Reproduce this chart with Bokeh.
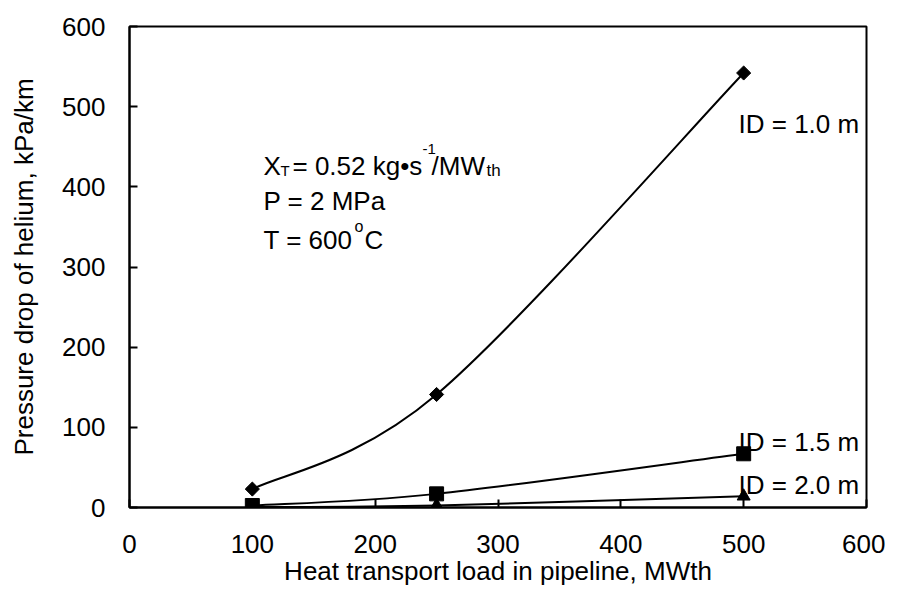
import numpy as np
from bokeh.plotting import figure
from bokeh.models import Label, Range1d, FixedTicker
from bokeh.embed import file_html
from bokeh.resources import INLINE

# ---- data ----
heat_load = [100, 250, 500]          # MWth
dp_id10 = [23, 141, 542]             # kPa/km, ID = 1.0 m
dp_id15 = [2.5, 17, 67]              # kPa/km, ID = 1.5 m
dp_id20 = [0.5, 2.5, 14]             # kPa/km, ID = 2.0 m
x_ticks = [0, 100, 200, 300, 400, 500, 600]
y_ticks = [0, 100, 200, 300, 400, 500, 600]

FONT = "Liberation Sans"
FS = "26px"

# frame placement (canvas pixels)
FL, FT, FR, FB = 129, 26, 866, 507
W, H = 885, 594

p = figure(width=W, height=H, output_backend="svg", toolbar_location=None,
           x_range=Range1d(0, 600), y_range=Range1d(0, 600),
           min_border_left=FL, min_border_right=W - FR, min_border_top=FT,
           min_border_bottom=H - FB)
p.background_fill_color = "white"
p.border_fill_color = "white"
p.outline_line_color = "black"
p.outline_line_width = 2
p.xgrid.visible = False
p.ygrid.visible = False

for ax in (p.xaxis[0], p.yaxis[0]):
    ax.axis_line_color = "black"
    ax.axis_line_width = 2
    ax.major_tick_line_color = "black"
    ax.major_tick_line_width = 2
    ax.major_tick_in = 8
    ax.major_tick_out = 0
    ax.minor_tick_line_color = None
    ax.major_label_text_font = FONT
    ax.major_label_text_font_size = FS
    ax.major_label_text_color = "black"
    ax.axis_label_text_font = FONT
    ax.axis_label_text_font_size = FS
    ax.axis_label_text_font_style = "normal"
    ax.axis_label_text_color = "black"

p.xaxis.ticker = FixedTicker(ticks=x_ticks)
p.yaxis.ticker = FixedTicker(ticks=y_ticks)
p.xaxis.axis_label = "Heat transport load in pipeline, MWth"
p.yaxis.axis_label = "Pressure drop of helium, kPa/km"
p.xaxis.major_label_standoff = 27
p.xaxis.axis_label_standoff = 0
p.yaxis.major_label_standoff = 24
p.yaxis.axis_label_standoff = 20


def smooth(xs, ys, k=1.0 / 6.0):
    """Excel-like smoothed line: cubic Bezier control points per segment."""
    xs = np.asarray(xs, float)
    ys = np.asarray(ys, float)
    n = len(xs)
    out = dict(x0=[], y0=[], x1=[], y1=[], cx0=[], cy0=[], cx1=[], cy1=[])
    for i in range(n - 1):
        im = max(i - 1, 0)
        ip2 = min(i + 2, n - 1)
        out["x0"].append(xs[i]); out["y0"].append(ys[i])
        out["x1"].append(xs[i + 1]); out["y1"].append(ys[i + 1])
        out["cx0"].append(xs[i] + (xs[i + 1] - xs[im]) * k)
        out["cy0"].append(ys[i] + (ys[i + 1] - ys[im]) * k)
        out["cx1"].append(xs[i + 1] - (xs[ip2] - xs[i]) * k)
        out["cy1"].append(ys[i + 1] - (ys[ip2] - ys[i]) * k)
    return out


for ys in (dp_id10, dp_id15, dp_id20):
    p.bezier(line_color="black", line_width=2, **smooth(heat_load, ys))

p.scatter(heat_load, dp_id10, marker="square", angle=np.pi / 4, size=10, color="black")
p.scatter(heat_load, dp_id15, marker="square", size=14, color="black")
p.scatter(heat_load, dp_id20, marker="triangle", size=13, color="black")


def px(xp):
    return (xp - FL) * 600.0 / (FR - FL)


def py(yp):
    return (FB - yp) * 600.0 / (FB - FT)


def dlab(xp, yp, text, size=FS):
    p.add_layout(Label(x=px(xp), y=py(yp), text=text,
                       text_font=FONT, text_font_size=size, text_color="black",
                       text_baseline="alphabetic", text_align="left"))

# series labels
dlab(738, 123, "ID = 1.0 m")
dlab(738, 441, "ID = 1.5 m")
dlab(738, 484, "ID = 2.0 m")

# conditions block
dlab(263, 165, "X")
dlab(280, 170, "T", "15px")
dlab(292, 165, "= 0.52 kg\u2022s")
dlab(422, 148, "-1", "15px")
dlab(431, 165, "/MW")
dlab(486, 170, "th", "17px")
dlab(263, 200, "P = 2 MPa")
dlab(263, 239, "T = 600")
dlab(354, 226, "o", "16px")
dlab(364, 239, "C")

with open("out.html", "w") as f:
    f.write(file_html(p, INLINE))
